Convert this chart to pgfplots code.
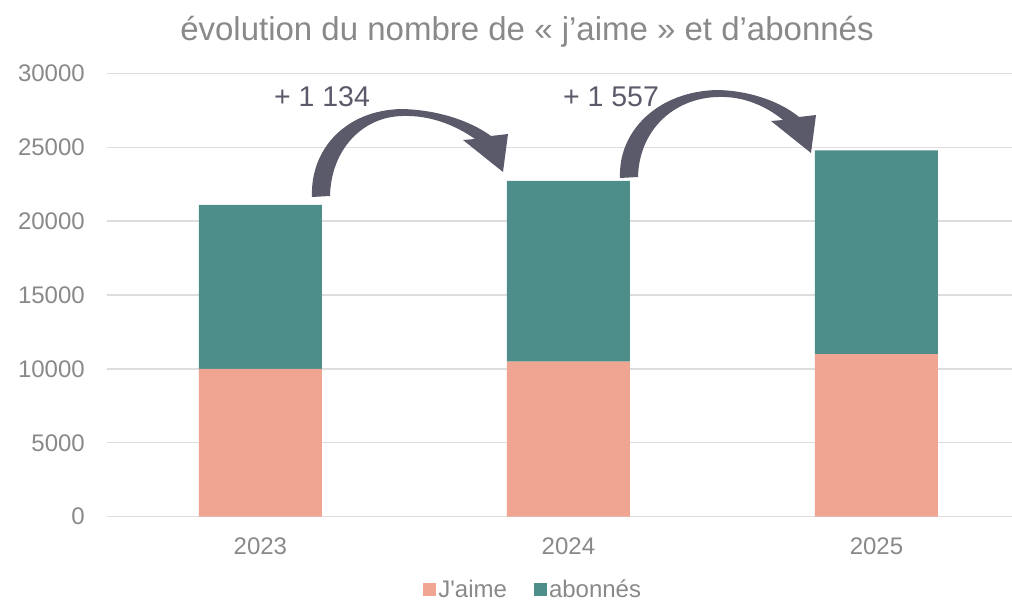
\documentclass[border=0pt]{standalone}
\usepackage{pgfplots}
\pgfplotsset{compat=1.18}
\usepackage{fontspec}
\setmainfont{Liberation Sans}
\definecolor{jaime}{HTML}{F0A592}
\definecolor{abon}{HTML}{4D8E8A}
\definecolor{arrowc}{HTML}{5A5A6A}
\definecolor{txt}{HTML}{898989}
\definecolor{gridc}{HTML}{DDDDDD}
\begin{document}
\begin{tikzpicture}
\useasboundingbox (0,0) rectangle (1012pt,601pt);
\begin{axis}[
  at={(107pt,84.3pt)}, anchor=south west,
  scale only axis, width=905pt, height=443.4pt,
  xmin=-0.498, xmax=2.44, ymin=0, ymax=30000,
  ybar stacked, bar width=123pt,
  xtick={0,1,2}, xticklabels={2023,2024,2025},
  ytick={0,5000,...,30000},
  scaled y ticks=false,
  ymajorgrids, grid style={gridc, line width=1.3pt},
  axis line style={draw=none},
  major tick length=0pt,
  /pgf/number format/assume math mode=true,
  /pgf/number format/1000 sep={},
  tick label style={font=\fontsize{24}{28}\selectfont, text=txt, inner sep=0pt},
  yticklabel shift=22pt,
  xticklabel shift=21pt,
  legend image code/.code={\fill[#1] (0pt,-6.5pt) rectangle (13pt,6.5pt);},
  legend style={at={(0.471,-0.165)}, anchor=center, draw=none, fill=none,
    legend columns=2, font=\fontsize{24}{28}\selectfont, text=txt, inner sep=1pt,
    nodes={inner sep=2.5pt},
    /tikz/every even column/.append style={column sep=24pt}},
]
\addplot[fill=jaime, draw=none] coordinates {(0,10000) (1,10500) (2,11000)};
\addlegendentry{J\textquotesingle aime}
\addplot[fill=abon, draw=none] coordinates {(0,11090) (1,12224) (2,13781)};
\addlegendentry{abonnés}
\end{axis}
\node[anchor=base, text=txt, font=\fontsize{33}{38}\selectfont] at (527pt,560pt) {évolution du nombre de « j’aime » et d’abonnés};
\begin{scope}[x=1pt,y=-1pt,yshift=601pt]
  \fill[arrowc] (312,197) .. controls (310,150) and (345,110) .. (402,109)
    .. controls (440,110) and (472,122) .. (491,136) -- (508,134) -- (503,172) -- (463,140) -- (475,139)
    .. controls (455,125) and (430,115) .. (402,116)
    .. controls (362,117) and (331,150) .. (330,196) -- cycle;
  \begin{scope}[shift={(308,-19)}]
  \fill[arrowc] (312,197) .. controls (310,150) and (350,110) .. (410,109)
    .. controls (445,110) and (474,122) .. (491,136) -- (508,134) -- (503,172) -- (463,140) -- (475,139)
    .. controls (458,125) and (435,115) .. (410,116)
    .. controls (365,117) and (331,150) .. (330,196) -- cycle;
  \end{scope}
  \node[anchor=base, text=arrowc, font=\fontsize{28.5}{32}\selectfont] at (322,106.5) {+ 1 134};
  \node[anchor=base, text=arrowc, font=\fontsize{28.5}{32}\selectfont] at (611,106.5) {+ 1 557};
\end{scope}
\end{tikzpicture}
\end{document}
